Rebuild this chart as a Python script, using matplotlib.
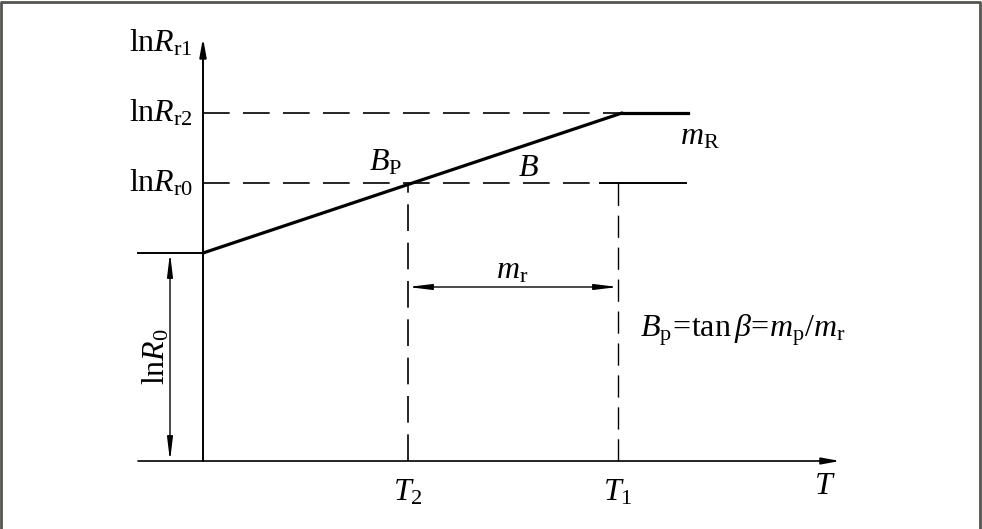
import matplotlib.pyplot as plt
from matplotlib.lines import Line2D

plt.rcParams['mathtext.fontset'] = 'custom'
plt.rcParams['mathtext.rm'] = 'Liberation Serif'
plt.rcParams['mathtext.it'] = 'Liberation Serif:italic'
plt.rcParams['font.family'] = 'Liberation Serif'

# schematic levels (diagram units, origin at the axes crossing)
T2, T1 = 205, 415
T_knee = 419          # where the sloped line meets lnRr2
T_end = 485           # end of the plateau segments
T_left = -65          # left stub of lnR0 line
lnR0, lnRr0, lnRr2 = 208, 278, 348
y_top, x_right = 423, 637
mr_level = 174
lnR0_arrow_x = -33

level_labels = [r'$\mathrm{ln}R_{\mathrm{r1}}$', r'$\mathrm{ln}R_{\mathrm{r2}}$', r'$\mathrm{ln}R_{\mathrm{r0}}$']
level_pos = [y_top - 5, lnRr2, lnRr0]

fig = plt.figure(figsize=(9.82, 5.29), dpi=100)
ax = fig.add_axes([0, 0, 1, 1])
ax.set_xlim(-203, 779)
ax.set_ylim(-68, 461)
ax.axis('off')

# frame around picture (left, top, right)
frame = '#55554f'
fig.lines.append(Line2D([0.001, 0.001, 0.998, 0.998], [0, 0.997, 0.997, 0], transform=fig.transFigure,
                        color=frame, lw=2.0))

k = 'black'
# axes with arrows
ax.annotate('', xy=(0, y_top), xytext=(0, 0),
            arrowprops=dict(arrowstyle='-|>,head_length=1.1,head_width=0.2', color=k, lw=1.4, shrinkA=0, shrinkB=0))
ax.annotate('', xy=(x_right, 0), xytext=(T_left, 0),
            arrowprops=dict(arrowstyle='-|>,head_length=1.1,head_width=0.2', color=k, lw=1.2, shrinkA=0, shrinkB=0))

# lnR0 stub and sloped line
ax.plot([T_left, 0], [lnR0, lnR0], color=k, lw=1.4)
ax.plot([0, T_knee], [lnR0, lnRr2], color=k, lw=2.3, solid_capstyle='round')
ax.plot([T_knee, T_end], [lnRr2, lnRr2], color=k, lw=2.3)
ax.plot([397, T_end - 2], [lnRr0, lnRr0], color=k, lw=1.4)

# dashed guides
ax.plot([0, T_knee], [lnRr2, lnRr2], color=k, lw=1.2, dashes=(16, 8))
ax.plot([0, 397], [lnRr0, lnRr0], color=k, lw=1.2, dashes=(16, 8))
ax.plot([T2, T2], [0, lnRr0], color=k, lw=1.2, dashes=(16, 7))
ax.plot([T1, T1], [0, lnRr0], color=k, lw=1.0, dashes=(16, 7))

# dimension arrows
ax.annotate('', xy=(T2, mr_level), xytext=(T1, mr_level),
            arrowprops=dict(arrowstyle='<|-|>,head_length=1.4,head_width=0.17', color=k, lw=1.0, shrinkA=0, shrinkB=0))
ax.annotate('', xy=(lnR0_arrow_x, 0), xytext=(lnR0_arrow_x, lnR0),
            arrowprops=dict(arrowstyle='<|-|>,head_length=1.4,head_width=0.17', color=k, lw=1.0, shrinkA=0, shrinkB=0))

fs = 23
for lab, yv in zip(level_labels, level_pos):
    ax.text(-10, yv, lab, fontsize=fs, ha='right', va='center')

ax.text(-47, 104, r'$\mathrm{ln}R_{0}$', fontsize=fs, rotation=90, ha='center', va='center')
ax.text(183, 298, r'$B_{\mathrm{P}}$', fontsize=fs, ha='center', va='center')
ax.text(325, 293, r'$B$', fontsize=fs, ha='center', va='center')
ax.text(497, 324, r'$m_{\mathrm{R}}$', fontsize=fs, ha='center', va='center')
ax.text(309, 190, r'$m_{\mathrm{r}}$', fontsize=fs, ha='center', va='center')
ax.text(437, 131, r'$B_{\mathrm{p}}\!\mathrm{=}\!\mathrm{tan}\,\beta\!=\!m_{\mathrm{p}}/m_{\mathrm{r}}$',
        fontsize=fs, ha='left', va='center')
ax.text(T2, -32, r'$T_{2}$', fontsize=fs, ha='center', va='center')
ax.text(T1, -32, r'$T_{1}$', fontsize=fs, ha='center', va='center')
ax.text(622, -25, r'$T$', fontsize=fs, ha='center', va='center')

fig.savefig('out.png', dpi=100)
